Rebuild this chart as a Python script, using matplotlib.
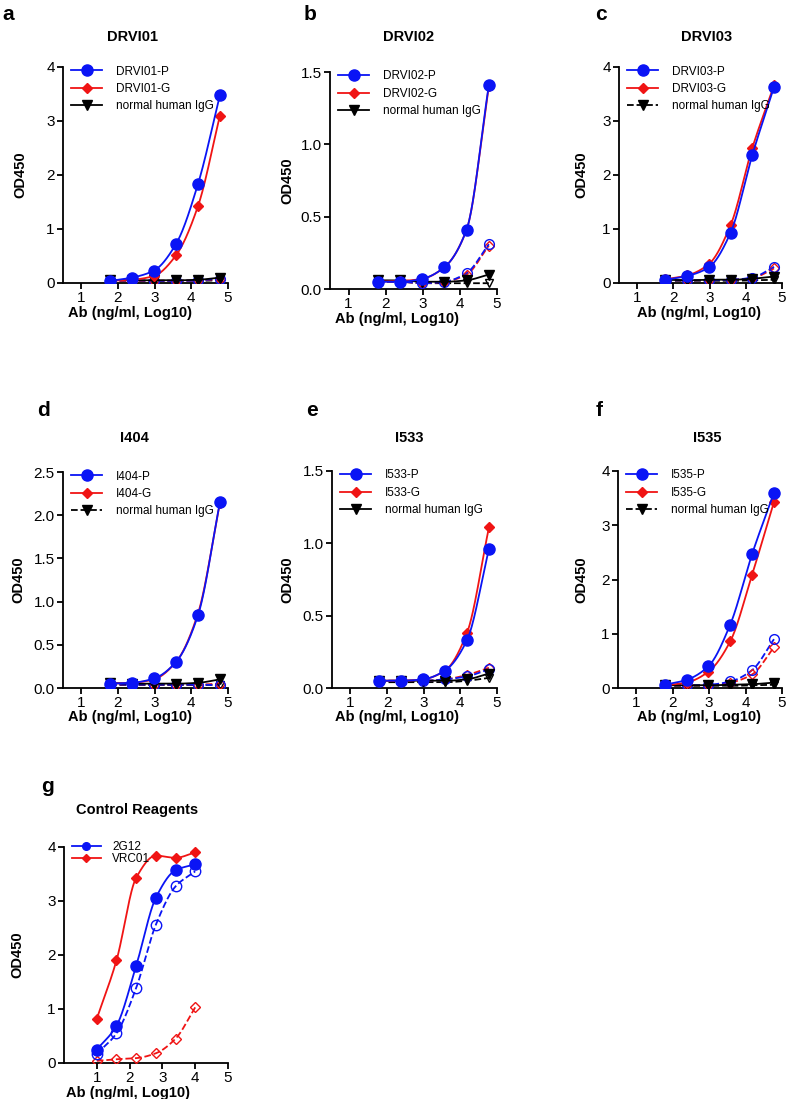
import numpy as np
import matplotlib
matplotlib.use("Agg")
import matplotlib.pyplot as plt
from matplotlib.lines import Line2D

plt.rcParams['font.family'] = ['Liberation Sans', 'DejaVu Sans']

# log10 concentrations
x_test = [1.78, 2.38, 2.98, 3.58, 4.18, 4.78]
x_ctrl = [1.0, 1.6, 2.2, 2.8, 3.4, 4.0]

# panel a - DRVI01
a_P = [0.04, 0.10, 0.23, 0.72, 1.83, 3.48]
a_G = [0.04, 0.06, 0.13, 0.51, 1.42, 3.10]
a_IgG = [0.06, 0.05, 0.05, 0.05, 0.06, 0.10]
a_P_open = [0.05, 0.05, 0.04, 0.04, 0.05, 0.08]
a_G_open = [0.04, 0.04, 0.04, 0.04, 0.05, 0.07]
a_IgG_open = [0.04, 0.04, 0.04, 0.04, 0.04, 0.05]

# panel b - DRVI02
b_P = [0.05, 0.05, 0.07, 0.15, 0.41, 1.41]
b_G = [0.05, 0.055, 0.07, 0.15, 0.41, 1.40]
b_IgG = [0.06, 0.06, 0.05, 0.05, 0.06, 0.10]
b_P_open = [0.05, 0.05, 0.04, 0.05, 0.11, 0.31]
b_G_open = [0.05, 0.05, 0.04, 0.05, 0.10, 0.30]
b_IgG_open = [0.05, 0.05, 0.04, 0.04, 0.04, 0.04]

# panel c - DRVI03
c_P = [0.06, 0.13, 0.29, 0.93, 2.37, 3.63]
c_G = [0.07, 0.14, 0.35, 1.07, 2.50, 3.66]
c_IgG = [0.06, 0.05, 0.06, 0.06, 0.08, 0.12]
c_P_open = [0.05, 0.05, 0.05, 0.06, 0.10, 0.30]
c_G_open = [0.05, 0.05, 0.05, 0.06, 0.09, 0.27]
c_IgG_open = [0.04, 0.04, 0.04, 0.04, 0.05, 0.06]

# panel d - I404
d_P = [0.05, 0.06, 0.11, 0.30, 0.84, 2.15]
d_G = [0.05, 0.06, 0.10, 0.30, 0.86, 2.14]
d_IgG = [0.06, 0.05, 0.05, 0.05, 0.06, 0.10]
d_P_open = [0.04, 0.04, 0.04, 0.04, 0.04, 0.03]
d_G_open = [0.04, 0.04, 0.04, 0.04, 0.04, 0.05]
d_IgG_open = [0.04, 0.04, 0.04, 0.04, 0.04, 0.04]

# panel e - I533
e_P = [0.05, 0.05, 0.06, 0.12, 0.33, 0.96]
e_G = [0.05, 0.05, 0.06, 0.12, 0.38, 1.11]
e_IgG = [0.05, 0.05, 0.05, 0.05, 0.06, 0.10]
e_P_open = [0.05, 0.05, 0.05, 0.06, 0.08, 0.13]
e_G_open = [0.05, 0.05, 0.05, 0.06, 0.09, 0.14]
e_IgG_open = [0.04, 0.04, 0.04, 0.04, 0.05, 0.07]

# panel f - I535
f_P = [0.06, 0.15, 0.40, 1.17, 2.47, 3.60]
f_G = [0.05, 0.10, 0.30, 0.86, 2.09, 3.43]
f_IgG = [0.05, 0.05, 0.05, 0.06, 0.07, 0.10]
f_P_open = [0.05, 0.05, 0.06, 0.12, 0.33, 0.90]
f_G_open = [0.05, 0.05, 0.05, 0.10, 0.25, 0.75]
f_IgG_open = [0.04, 0.04, 0.04, 0.04, 0.05, 0.06]

# panel g - control reagents
g_2G12 = [0.25, 0.69, 1.80, 3.06, 3.57, 3.68]
g_VRC01 = [0.82, 1.90, 3.43, 3.84, 3.80, 3.90]
g_2G12_open = [0.17, 0.55, 1.39, 2.56, 3.27, 3.55]
g_VRC01_open = [0.04, 0.07, 0.09, 0.18, 0.45, 1.03]

BLUE = '#0a14f5'
RED = '#f01414'


def pchip(x, y, n=200):
    # monotone cubic through the points, for a smooth curve
    x = np.asarray(x, float)
    y = np.asarray(y, float)
    h = np.diff(x)
    d = np.diff(y) / h
    m = np.zeros_like(y)
    for k in range(1, len(x) - 1):
        if d[k - 1] * d[k] > 0:
            w1 = 2 * h[k] + h[k - 1]
            w2 = h[k] + 2 * h[k - 1]
            m[k] = (w1 + w2) / (w1 / d[k - 1] + w2 / d[k])
    m[0] = d[0]
    m[-1] = d[-1]
    xs = np.linspace(x[0], x[-1], n)
    idx = np.clip(np.searchsorted(x, xs) - 1, 0, len(x) - 2)
    t = (xs - x[idx]) / h[idx]
    h00 = 2 * t**3 - 3 * t**2 + 1
    h10 = t**3 - 2 * t**2 + t
    h01 = -2 * t**3 + 3 * t**2
    h11 = t**3 - t**2
    ys = h00 * y[idx] + h10 * h[idx] * m[idx] + h01 * y[idx + 1] + h11 * h[idx] * m[idx + 1]
    return xs, ys


def series(ax, x, y, color, marker, ms, filled=True, ls='-', z=3):
    xs, ys = pchip(x, y)
    ax.plot(xs, ys, color=color, lw=1.3, ls=ls, zorder=z)
    if filled:
        ax.plot(x, y, ls='none', marker=marker, ms=ms, color=color, zorder=z + 1)
    else:
        ax.plot(x, y, ls='none', marker=marker, ms=ms, mfc='none', mec=color,
                mew=1.0, zorder=z + 1)


W, H = 787, 1099
fig = plt.figure(figsize=(W / 100, H / 100), dpi=100)


def axes_px(left, top, right, bottom):
    return fig.add_axes([left / W, 1 - bottom / H, (right - left) / W, (bottom - top) / H])


def style(ax, box, ylim, yticks, yfmt, xlim, ylab_off, xlab_x):
    for s in ['top', 'right']:
        ax.spines[s].set_visible(False)
    for s in ['left', 'bottom']:
        ax.spines[s].set_linewidth(1.3)
    ax.set_xlim(*xlim)
    ax.set_ylim(*ylim)
    ax.set_xticks([1, 2, 3, 4, 5])
    ax.set_yticks(yticks)
    ax.set_yticklabels([yfmt.format(v) for v in yticks])
    ax.tick_params(direction='out', length=4, width=1.3, labelsize=11, pad=2)
    w = box[2] - box[0]
    h = box[3] - box[1]
    ax.set_ylabel('OD450', fontsize=10.5, fontweight='bold')
    ax.yaxis.set_label_coords(-ylab_off / w, 0.5)
    ax.set_xlabel('Ab (ng/ml, Log10)', fontsize=10.5, fontweight='bold')
    ax.xaxis.set_label_coords((xlab_x - box[0]) / w, -29.5 / h)
    ax.xaxis.label.set_va('center')
    ax.yaxis.label.set_va('center')


panels = [
    ('DRVI01', (63, 67, 228, 283), a_P, a_G, a_IgG, a_P_open, a_G_open, a_IgG_open,
     (0, 4), [0, 1, 2, 3, 4], '{:.0f}', '-', 43, 130, 132),
    ('DRVI02', (330, 72, 497, 289), b_P, b_G, b_IgG, b_P_open, b_G_open, b_IgG_open,
     (0, 1.5), [0, 0.5, 1.0, 1.5], '{:.1f}', '-', 43, 397, 409),
    ('DRVI03', (619, 67, 782, 283), c_P, c_G, c_IgG, c_P_open, c_G_open, c_IgG_open,
     (0, 4), [0, 1, 2, 3, 4], '{:.0f}', '--', 38, 699, 707),
    ('I404', (63, 472, 228, 688), d_P, d_G, d_IgG, d_P_open, d_G_open, d_IgG_open,
     (0, 2.5), [0, 0.5, 1.0, 1.5, 2.0, 2.5], '{:.1f}', '--', 45, 130, 134),
    ('I533', (332, 471, 497, 688), e_P, e_G, e_IgG, e_P_open, e_G_open, e_IgG_open,
     (0, 1.5), [0, 0.5, 1.0, 1.5], '{:.1f}', '-', 45, 397, 409),
    ('I535', (618, 471, 782, 688), f_P, f_G, f_IgG, f_P_open, f_G_open, f_IgG_open,
     (0, 4), [0, 1, 2, 3, 4], '{:.0f}', '--', 37, 699, 707),
]

for i, (name, box, P, G, IgG, Po, Go, Io, ylim, yt, fmt, igg_ls, yoff, xlx, tx) in enumerate(panels):
    ax = axes_px(*box)
    style(ax, box, ylim, yt, fmt, (0.5, 5), yoff, xlx)
    series(ax, x_test, Io, 'black', 'v', 6, filled=False, ls='--', z=2)
    series(ax, x_test, Go, RED, 'D', 5.5, filled=False, ls='--', z=2)
    series(ax, x_test, Po, BLUE, 'o', 7, filled=False, ls='--', z=2)
    series(ax, x_test, IgG, 'black', 'v', 7, ls='-', z=3)
    series(ax, x_test, G, RED, 'D', 5.5, z=4)
    series(ax, x_test, P, BLUE, 'o', 8, z=5)
    handles = [
        Line2D([], [], color=BLUE, lw=1.3, marker='o', ms=8),
        Line2D([], [], color=RED, lw=1.3, marker='D', ms=5.5),
        Line2D([], [], color='black', lw=1.3, ls=igg_ls, marker='v', ms=7),
    ]
    ax.legend(handles, [name + '-P', name + '-G', 'normal human IgG'], loc='upper left',
              bbox_to_anchor=(0.0, 1.045), frameon=False, fontsize=8.5, handlelength=2.6,
              handletextpad=1.2, labelspacing=0.45, borderaxespad=0.3, numpoints=1)
    ty = 37 if i < 3 else 438
    fig.text(tx / W, 1 - ty / H, name, ha='center', va='center',
             fontsize=10.5, fontweight='bold')

# panel g
gbox = (64, 847, 228, 1063)
ax = axes_px(*gbox)
style(ax, gbox, (0, 4), [0, 1, 2, 3, 4], '{:.0f}', (0, 5), 47, 128)
series(ax, x_ctrl, g_VRC01_open, RED, 'D', 5.5, filled=False, ls='--', z=2)
series(ax, x_ctrl, g_2G12_open, BLUE, 'o', 7.5, filled=False, ls='--', z=2)
series(ax, x_ctrl, g_VRC01, RED, 'D', 5.5, z=4)
series(ax, x_ctrl, g_2G12, BLUE, 'o', 8, z=5)
handles = [
    Line2D([], [], color=BLUE, lw=1.3, marker='o', ms=5.5),
    Line2D([], [], color=RED, lw=1.3, marker='D', ms=4.5),
]
ax.legend(handles, ['2G12', 'VRC01'], loc='upper left', bbox_to_anchor=(0.0, 1.065),
          frameon=False, fontsize=8.5, handlelength=2.4, handletextpad=1.0,
          labelspacing=0.0, borderaxespad=0.3, numpoints=1)
fig.text(137 / W, 1 - 810 / H, 'Control Reagents', ha='center', va='center',
         fontsize=10.5, fontweight='bold')

# panel letters
for lab, px, py in [('a', 8, 15), ('b', 310, 15), ('c', 601, 15),
                    ('d', 43, 410), ('e', 312, 410), ('f', 599, 410), ('g', 48, 787)]:
    fig.text(px / W, 1 - py / H, lab, ha='center', va='center', fontsize=15, fontweight='bold')

fig.savefig('out.png', dpi=100)
